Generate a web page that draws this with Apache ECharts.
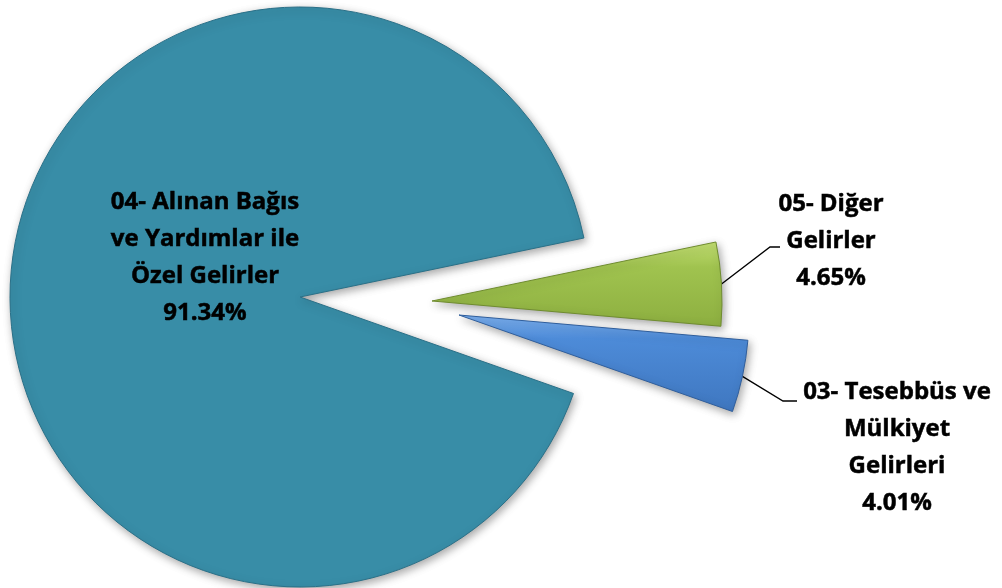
<!DOCTYPE html>
<html>
<head>
<meta charset="utf-8">
<style>
  html, body { margin: 0; padding: 0; background: #ffffff; }
  #chart { width: 1002px; height: 588px; }
</style>
<script src="https://cdn.jsdelivr.net/npm/echarts@6/dist/echarts.min.js"></script>
</head>
<body>
<div id="chart"></div>
<script>
// veriler (Excel sırası: 03, 04, 05)
const categories = [
  '03- Tesebbüs ve\nMülkiyet\nGelirleri',
  '04- Alınan Bağıs\nve Yardımlar ile\nÖzel Gelirler',
  '05- Diğer\nGelirler'
]
const values = [4.01, 91.34, 4.65]

// her dilim kendi serisinde çizilir, böylece ayrı ayrı dışa çekilebilir
const sliceCenters = [[459, 315], [300, 297], [432, 301]]
const sliceColors = [
  new echarts.graphic.LinearGradient(0, 0, 0, 1, [
    { offset: 0, color: '#7db1f0' },
    { offset: 0.25, color: '#4d8bd8' },
    { offset: 1, color: '#3f77c0' }
  ]),
  '#388da7',
  new echarts.graphic.LinearGradient(0, 0, 0, 1, [
    { offset: 0, color: '#c2de72' },
    { offset: 0.3, color: '#a0c34f' },
    { offset: 1, color: '#8daf40' }
  ])
]
const borderColors = ['#2f5e9c', '#2a7088', '#6f8c2f']
// etiket yerleri: [x, y, çizgi sonu x, çizgi sonu y, yatay parça]
const labelSpots = [
  [897, 448, 797, 401, 14],
  [205, 258],
  [831, 241, 780, 247, 10]
]

function makeSeries (k) {
  return {
    type: 'pie',
    center: sliceCenters[k],
    radius: 290,
    startAngle: -5,
    clockwise: true,
    avoidLabelOverlap: false,
    silent: true,
    animation: false,
    label: { show: false },
    labelLine: { show: false },
    data: values.map((v, i) => {
      const item = { name: categories[i], value: v }
      if (i !== k) {
        item.itemStyle = { color: 'rgba(0,0,0,0)', borderWidth: 0 }
        return item
      }
      item.itemStyle = {
        color: sliceColors[i],
        borderColor: borderColors[i],
        borderWidth: 1,
        shadowBlur: 8,
        shadowColor: 'rgba(0,0,0,0.35)',
        shadowOffsetX: 2,
        shadowOffsetY: 3
      }
      item.label = {
        show: true,
        position: i === 1 ? 'inside' : 'outside',
        formatter: p => p.name + '\n' + p.percent.toFixed(2) + '%',
        fontFamily: 'Open Sans',
        fontWeight: 'bold',
        fontSize: 24,
        lineHeight: 37,
        color: '#000000',
        textBorderColor: '#000000',
        textBorderWidth: 0.5,
        align: 'center'
      }
      item.labelLine = {
        show: i !== 1,
        lineStyle: { color: '#000000', width: 1.3 }
      }
      return item
    }),
    labelLayout: function (params) {
      if (params.dataIndex !== k) {
        return
      }
      const s = labelSpots[k]
      const res = { x: s[0], y: s[1], align: 'center', verticalAlign: 'middle' }
      if (s.length > 2 && params.labelLinePoints) {
        res.labelLinePoints = [
          params.labelLinePoints[0],
          [s[2] - s[4], s[3]],
          [s[2], s[3]]
        ]
      }
      return res
    }
  }
}

const chart = echarts.init(document.getElementById('chart'))
chart.setOption({
  backgroundColor: '#ffffff',
  series: [makeSeries(1), makeSeries(2), makeSeries(0)]
})
</script>
</body>
</html>
